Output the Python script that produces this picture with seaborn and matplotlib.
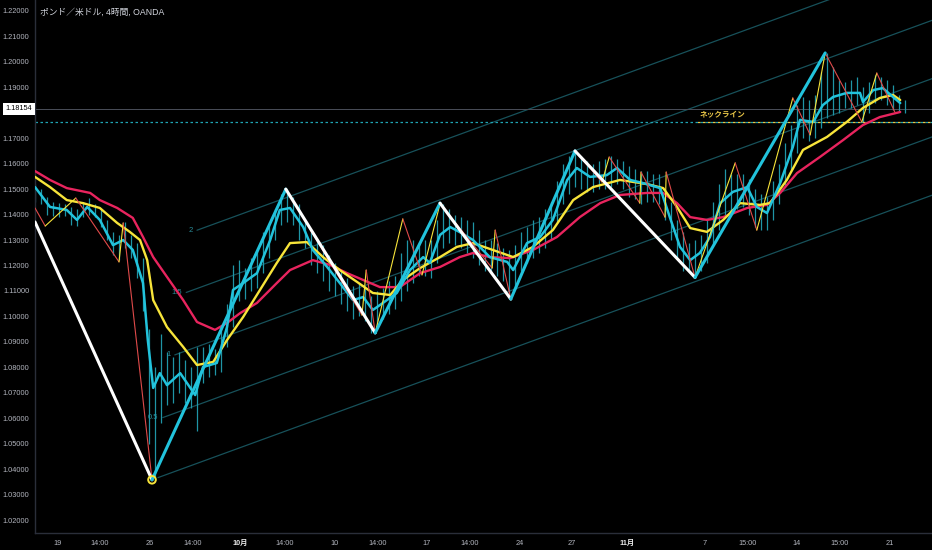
import numpy as np
import seaborn as sns
import matplotlib.pyplot as plt
from matplotlib import transforms

# ---- data: GBP/USD, x = bar index (one slot = 8h), y = price ----
bar_hi = [
    1.1520, 1.1500, 1.1470, 1.1450, 1.1445, 1.1440, 1.1430, 1.1420, 1.1450, 1.1465,
    1.1440, 1.1420, 1.1380, 1.1330, 1.1320, 1.1370, 1.1320, 1.1290, 1.1230, 1.0950,
    1.0800, 1.0930, 1.0860, 1.0840, 1.0860, 1.0830, 1.0800, 1.0880, 1.0880, 1.0890,
    1.0870, 1.0960, 1.1050, 1.1200, 1.1220, 1.1190, 1.1230, 1.1260, 1.1330, 1.1360,
    1.1420, 1.1480, 1.1500, 1.1470, 1.1440, 1.1380, 1.1330, 1.1300, 1.1280, 1.1240,
    1.1210, 1.1180, 1.1150, 1.1120, 1.1130, 1.1120, 1.1080, 1.1100, 1.1110, 1.1140,
    1.1160, 1.1250, 1.1300, 1.1300, 1.1290, 1.1300, 1.1300, 1.1380, 1.1440, 1.1420,
    1.1400, 1.1390, 1.1380, 1.1370, 1.1340, 1.1300, 1.1300, 1.1290, 1.1270, 1.1260,
    1.1280, 1.1330, 1.1350, 1.1380, 1.1390, 1.1420, 1.1450, 1.1530, 1.1600, 1.1630,
    1.1650, 1.1630, 1.1610, 1.1600, 1.1610, 1.1620, 1.1630, 1.1620, 1.1610, 1.1590,
    1.1580, 1.1570, 1.1570, 1.1560, 1.1560, 1.1500, 1.1450, 1.1380, 1.1330, 1.1290,
    1.1300, 1.1320, 1.1380, 1.1450, 1.1520, 1.1580, 1.1560, 1.1560, 1.1560, 1.1540,
    1.1500, 1.1480, 1.1470, 1.1530, 1.1600, 1.1680, 1.1750, 1.1830, 1.1860, 1.1850,
    1.1870, 1.1960, 1.2035, 1.1980, 1.1930, 1.1920, 1.1930, 1.1940, 1.1900, 1.1920,
    1.1950, 1.1940, 1.1930, 1.1910, 1.1870, 1.1850]
bar_lo = [
    1.1450, 1.1440, 1.1400, 1.1395, 1.1390, 1.1395, 1.1360, 1.1355, 1.1390, 1.1400,
    1.1390, 1.1350, 1.1300, 1.1240, 1.1220, 1.1270, 1.1230, 1.1150, 1.1020, 1.0500,
    1.0356, 1.0580, 1.0650, 1.0660, 1.0700, 1.0660, 1.0640, 1.0550, 1.0740, 1.0760,
    1.0770, 1.0780, 1.0880, 1.0960, 1.1060, 1.1070, 1.1100, 1.1110, 1.1170, 1.1230,
    1.1300, 1.1360, 1.1370, 1.1360, 1.1300, 1.1270, 1.1200, 1.1170, 1.1140, 1.1100,
    1.1080, 1.1050, 1.1020, 1.0990, 1.1000, 1.0980, 1.0935, 1.0960, 1.0990, 1.1010,
    1.1030, 1.1060, 1.1100, 1.1130, 1.1160, 1.1160, 1.1150, 1.1210, 1.1270, 1.1290,
    1.1280, 1.1270, 1.1250, 1.1230, 1.1200, 1.1180, 1.1170, 1.1160, 1.1140, 1.1068,
    1.1120, 1.1180, 1.1210, 1.1230, 1.1250, 1.1270, 1.1300, 1.1370, 1.1440, 1.1480,
    1.1510, 1.1500, 1.1490, 1.1490, 1.1500, 1.1500, 1.1510, 1.1520, 1.1500, 1.1470,
    1.1460, 1.1440, 1.1450, 1.1450, 1.1440, 1.1380, 1.1300, 1.1230, 1.1180, 1.1180,
    1.1153, 1.1180, 1.1210, 1.1280, 1.1340, 1.1400, 1.1410, 1.1420, 1.1430, 1.1400,
    1.1350, 1.1340, 1.1340, 1.1380, 1.1440, 1.1510, 1.1570, 1.1640, 1.1700, 1.1690,
    1.1700, 1.1740, 1.1780, 1.1790, 1.1800, 1.1820, 1.1820, 1.1830, 1.1765, 1.1800,
    1.1840, 1.1850, 1.1830, 1.1810, 1.1805, 1.1800]

fast_x = [0, 2.5, 5.3, 7, 8.7, 10.8, 13, 14.7, 16.3, 18, 18.8, 19.7, 20.8, 22, 24.2,
          25.8, 26.7, 28, 30.3, 32, 33, 34.7, 37, 39.2, 40.8, 42.5, 44.7, 46.3, 48.7,
          50.8, 53, 54.7, 56.3, 58, 60.3, 62.5, 64.7, 65.8, 67.5, 69.2, 70.8, 73,
          75.8, 78.7, 79.7, 82, 84.2, 86.3, 88.7, 90.3, 92.5, 95.3, 97, 99.2, 101.3,
          104.2, 105.8, 107.5, 109.2, 110.8, 112.5, 114.2, 116.3, 118.7, 120.3, 122,
          124.2, 126.3, 127.5, 129.7, 131.3, 133, 135.3, 137.5, 138, 139.7, 141.3,
          143, 144.2]
fast_y = [1.1508, 1.1430, 1.1418, 1.1379, 1.1430, 1.1379, 1.1280, 1.1300, 1.1261,
          1.1131, 1.0907, 1.0719, 1.0777, 1.0730, 1.0777, 1.0722, 1.0691, 1.0801,
          1.0817, 1.0958, 1.1104, 1.1131, 1.1170, 1.1300, 1.1418, 1.1426, 1.1351,
          1.1261, 1.1194, 1.1131, 1.1064, 1.1076, 1.1025, 1.1053, 1.1092, 1.1182,
          1.1233, 1.1210, 1.1320, 1.1351, 1.1331, 1.1300, 1.1233, 1.1214, 1.1182,
          1.1288, 1.1312, 1.1379, 1.1536, 1.1583, 1.1548, 1.1555, 1.1583, 1.1536,
          1.1524, 1.1504, 1.1390, 1.1273, 1.1221, 1.1249, 1.1312, 1.1445, 1.1489,
          1.1508, 1.1430, 1.1406, 1.1524, 1.1665, 1.1772, 1.1764, 1.1830, 1.1862,
          1.1878, 1.1878, 1.1842, 1.1889, 1.1897, 1.1862, 1.1838]

mid_x = [0, 2.5, 5.3, 8, 10.8, 13.7, 15.8, 17.5, 18.7, 19.7, 22, 24.7, 27, 29.7, 32,
         34.7, 37.5, 40.3, 42.5, 45.3, 48, 50.8, 53.7, 56.3, 59.2, 61.3, 64.2, 67.5,
         70.3, 73, 76.3, 79.7, 83, 86.3, 89.7, 93, 97.5, 102, 104.7, 107, 109.2, 112,
         114.7, 117.5, 120.8, 122.5, 125.3, 128, 132, 135.3, 138, 140.8, 143, 144.2]
mid_y = [1.1548, 1.1508, 1.1457, 1.1445, 1.1426, 1.1367, 1.1332, 1.1300, 1.1221,
         1.1064, 1.0958, 1.0880, 1.0809, 1.0821, 1.0907, 1.0998, 1.1104, 1.1210,
         1.1288, 1.1292, 1.1233, 1.1182, 1.1135, 1.1092, 1.1084, 1.1143, 1.1190,
         1.1233, 1.1273, 1.1288, 1.1261, 1.1233, 1.1273, 1.1339, 1.1457, 1.1508,
         1.1536, 1.1520, 1.1504, 1.1430, 1.1347, 1.1332, 1.1379, 1.1445, 1.1438,
         1.1445, 1.1536, 1.1654, 1.1705, 1.1764, 1.1819, 1.1858, 1.1870, 1.1850]

slow_x = [0, 2.5, 5.3, 9.2, 10.8, 13.7, 16.3, 18, 19.7, 22, 24.7, 27, 30, 32, 34.2,
          37, 40.3, 42.5, 46.3, 49.2, 52, 54.7, 57.5, 60.8, 64.2, 67.5, 70.8, 73,
          75.8, 79.2, 83, 87, 90.8, 94.2, 97.5, 102, 104.7, 107, 109.2, 112, 114.7,
          118.7, 122, 124.2, 127, 130.8, 134.7, 138, 140.8, 144.2]
slow_y = [1.1571, 1.1536, 1.1504, 1.1485, 1.1457, 1.1426, 1.1387, 1.1312, 1.1233,
          1.1155, 1.1064, 1.0978, 1.0947, 1.0974, 1.1013, 1.1053, 1.1131, 1.1182,
          1.1221, 1.1202, 1.1170, 1.1143, 1.1115, 1.1115, 1.1170, 1.1194, 1.1233,
          1.1249, 1.1233, 1.1229, 1.1261, 1.1312, 1.1390, 1.1445, 1.1477, 1.1485,
          1.1485, 1.1445, 1.1390, 1.1379, 1.1390, 1.1426, 1.1438, 1.1485, 1.1563,
          1.1626, 1.1693, 1.1752, 1.1783, 1.1803]

# big swing zigzag
zz_x = [0, 19.5, 41.8, 56.7, 67.5, 79.3, 90, 110, 131.7]
zz_y = [1.1371, 1.0358, 1.1500, 1.0935, 1.1445, 1.1068, 1.1650, 1.1153, 1.2035]
# small swing zigzag
sz_x = [0, 1.7, 6.8, 14, 14.7, 19.5, 41.8, 54.5, 55.2, 56.7, 61.3, 64.5, 67.5, 76.2,
        76.7, 79.3, 90, 94.5, 95.7, 100.8, 101, 105, 105.2, 110, 116.7, 120.3, 126.3,
        129.2, 131.7, 137.8, 140.3, 143.3]
sz_y = [1.1426, 1.1355, 1.1465, 1.1214, 1.1367, 1.0358, 1.1500, 1.1005, 1.1182,
        1.0935, 1.1383, 1.1163, 1.1442, 1.1190, 1.1339, 1.1068, 1.1650, 1.1528,
        1.1626, 1.1445, 1.1567, 1.1390, 1.1567, 1.1153, 1.1603, 1.1339, 1.1858,
        1.1713, 1.2035, 1.1764, 1.1956, 1.1803]

chan_levels = [0, 0.5, 1, 1.5, 2]
chan_start = [20.5, 21.3, 23.3, 25.2, 27.0]
chan_base_x, chan_base_y = 19.5, 1.0358
chan_slope = 0.00086      # price per bar
chan_width = 0.0458       # price per 1.0 level

last_price = 1.18154
neck_price = 1.1764

tick_pos = [3.83, 10.83, 19.17, 26.33, 34.17, 41.67, 50, 57.17, 65.33, 72.5, 80.83,
            89.5, 98.67, 111.67, 118.83, 127, 134.17, 142.5]
tick_labels = ['19', '14:00', '26', '14:00', '10月', '14:00', '10', '14:00', '17',
               '14:00', '24', '27', '11月', '7', '15:00', '14', '15:00', '21']

# ---- style ----
sns.set_theme(style="dark")
plt.rcParams['font.family'] = ['Liberation Sans', 'Noto Sans CJK JP', 'DejaVu Sans']

C_CYAN = '#22c3dc'
C_YEL = '#f7e43a'
C_MAG = '#e8245e'
C_RED = '#e04a4a'
C_BAR = '#1f95a6'
C_CHAN = '#17515a'
C_TXT = '#b2b5be'

fig = plt.figure(figsize=(9.32, 5.5), dpi=100)
fig.patch.set_facecolor('black')
ax = fig.add_axes([35 / 932, 17 / 550, 897 / 932, 533 / 550])
ax.set_facecolor('black')
ax.grid(False)
XMAX = 149.5

# fib channel
for lvl, xs in zip(chan_levels, chan_start):
    xx = np.array([xs, XMAX])
    yy = chan_base_y + chan_slope * (xx - chan_base_x) + chan_width * lvl
    sns.lineplot(x=xx, y=yy, ax=ax, color=C_CHAN, linewidth=0.9, zorder=1)
    ax.text(xs - 0.7, yy[0], f"{lvl:g}", color='#2a8d99', fontsize=5.5,
            ha='right', va='center', zorder=1)

# price bars
idx = np.arange(len(bar_hi))
ax.vlines(idx, bar_lo, bar_hi, color=C_BAR, linewidth=0.9, zorder=2)

# moving averages
sns.lineplot(x=slow_x, y=slow_y, ax=ax, color=C_MAG, linewidth=1.7, zorder=3)
sns.lineplot(x=mid_x, y=mid_y, ax=ax, color=C_YEL, linewidth=1.7, zorder=3)
sns.lineplot(x=fast_x, y=fast_y, ax=ax, color=C_CYAN, linewidth=1.8, zorder=4)

# small zigzag
for k in range(len(sz_x) - 1):
    col = C_RED if sz_y[k + 1] < sz_y[k] else C_YEL
    ax.plot(sz_x[k:k + 2], sz_y[k:k + 2], color=col, linewidth=0.8, zorder=5)

# big zigzag
for k in range(len(zz_x) - 1):
    col = 'white' if zz_y[k + 1] < zz_y[k] else C_CYAN
    ax.plot(zz_x[k:k + 2], zz_y[k:k + 2], color=col, linewidth=2.2, zorder=6,
            solid_capstyle='round')
ax.scatter([zz_x[1]], [zz_y[1]], s=30, facecolors='none', edgecolors=C_YEL,
           linewidths=1.4, zorder=7)

# neckline + last price
ax.axhline(neck_price, color='#1fa3b3', linewidth=0.9, linestyle=(0, (2, 2)), zorder=2)
ax.hlines(neck_price, 110, XMAX, color='#e8c547', linewidth=0.9,
          linestyle=(2, (2, 2)), zorder=2)
ax.text(110.7, 1.1795, 'ネックライン', color='#e8c547', fontsize=5.5,
        fontweight='bold', ha='left', va='center',
        family=['Noto Sans CJK JP', 'DejaVu Sans'])
ax.axhline(last_price, color='#4a4e59', linewidth=0.7, zorder=1)
trans = transforms.blended_transform_factory(ax.transAxes, ax.transData)
ax.text(-0.003, last_price, f"{last_price:.5f}", transform=trans, ha='right',
        va='center', fontsize=5.3, color='black', clip_on=False, zorder=10,
        bbox=dict(boxstyle='square,pad=0.3', fc='white', ec='none'))

# axes
ax.set_xlim(0, XMAX)
ax.set_ylim(1.0149, 1.2243)
yt = np.round(np.arange(1.02, 1.2201, 0.01), 2)
ax.set_yticks(yt)
# the 1.18000 label sits under the last-price box, as on the reference
ax.set_yticklabels(['' if abs(v - 1.18) < 1e-9 else f"{v:.5f}" for v in yt])
ax.set_xticks(tick_pos)
ax.set_xticklabels(tick_labels)
ax.tick_params(axis='y', length=0, pad=4, labelsize=5.3, labelcolor=C_TXT)
ax.tick_params(axis='x', length=0, pad=5, labelsize=5.3, labelcolor=C_TXT)
for lab in ax.get_xticklabels():
    if '月' in lab.get_text():
        lab.set_color('#e6e6e6')
        lab.set_fontweight('bold')
for side in ['top', 'right']:
    ax.spines[side].set_visible(False)
for side in ['left', 'bottom']:
    ax.spines[side].set_color('#2a2e39')
    ax.spines[side].set_linewidth(1)
ax.set_xlabel('')
ax.set_ylabel('')

fig.text(40 / 932, 1 - 12 / 550, 'ポンド／米ドル, 4時間, OANDA', color='#d1d4dc',
         fontsize=6.3, ha='left', va='center')

fig.savefig('out.png', dpi=100, facecolor='black')
